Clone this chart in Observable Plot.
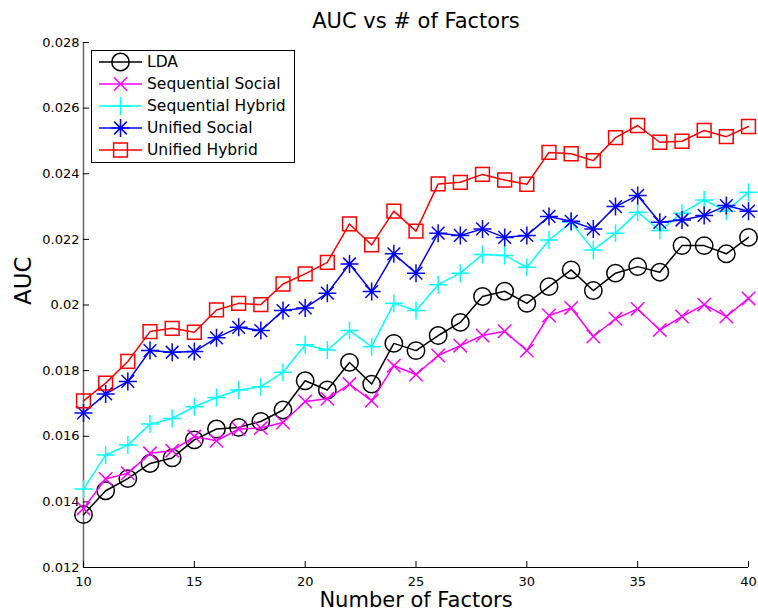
<!DOCTYPE html>
<html>
<head>
<meta charset="utf-8">
<script src="https://cdn.jsdelivr.net/npm/d3@7"></script>
<script src="https://cdn.jsdelivr.net/npm/@observablehq/plot@0.6"></script>
<style>
  html, body { margin: 0; padding: 0; background: #fff; }
  #chart svg { display: block; }
</style>
</head>
<body>
<div id="chart"></div>
<script>
// Number of latent factors on the x axis
const factors = [10, 11, 12, 13, 14, 15, 16, 17, 18, 19, 20, 21, 22, 23, 24, 25,
                 26, 27, 28, 29, 30, 31, 32, 33, 34, 35, 36, 37, 38, 39, 40];

// AUC per model, one value per factor count
const lda = [0.01361, 0.01434, 0.01471, 0.01517, 0.01534, 0.01589, 0.01622, 0.01627,
             0.01645, 0.01680, 0.01769, 0.01741, 0.01825, 0.01759, 0.01883, 0.01861,
             0.01907, 0.01947, 0.02026, 0.02042, 0.02005, 0.02056, 0.02107, 0.02044,
             0.02097, 0.02117, 0.02100, 0.02181, 0.02181, 0.02156, 0.02206];
const sequentialSocial = [0.01380, 0.01470, 0.01487, 0.01548, 0.01556, 0.01599, 0.01586, 0.01622,
             0.01625, 0.01642, 0.01706, 0.01714, 0.01759, 0.01708, 0.01815, 0.01788,
             0.01846, 0.01876, 0.01907, 0.01920, 0.01861, 0.01968, 0.01991, 0.01904,
             0.01958, 0.01988, 0.01924, 0.01965, 0.02001, 0.01965, 0.02020];
const sequentialHybrid = [0.01439, 0.01543, 0.01573, 0.01637, 0.01654, 0.01690, 0.01718, 0.01741,
             0.01751, 0.01795, 0.01879, 0.01863, 0.01922, 0.01873, 0.02005, 0.01983,
             0.02062, 0.02097, 0.02154, 0.02151, 0.02115, 0.02198, 0.02252, 0.02168,
             0.02219, 0.02283, 0.02227, 0.02280, 0.02320, 0.02286, 0.02344];
const unifiedSocial = [0.01671, 0.01729, 0.01767, 0.01861, 0.01856, 0.01858, 0.01900, 0.01932,
             0.01922, 0.01983, 0.01991, 0.02036, 0.02125, 0.02041, 0.02156, 0.02097,
             0.02219, 0.02212, 0.02232, 0.02206, 0.02212, 0.02270, 0.02255, 0.02232,
             0.02300, 0.02334, 0.02252, 0.02259, 0.02273, 0.02303, 0.02286];
const unifiedHybrid = [0.01708, 0.01762, 0.01828, 0.01919, 0.01929, 0.01917, 0.01985, 0.02005,
             0.02001, 0.02064, 0.02095, 0.02130, 0.02247, 0.02183, 0.02286, 0.02225,
             0.02369, 0.02374, 0.02398, 0.02381, 0.02368, 0.02465, 0.02461, 0.02440,
             0.02510, 0.02547, 0.02496, 0.02499, 0.02532, 0.02513, 0.02544];

const seriesNames = ["LDA", "Sequential Social", "Sequential Hybrid", "Unified Social", "Unified Hybrid"];
const seriesValues = [lda, sequentialSocial, sequentialHybrid, unifiedSocial, unifiedHybrid];

// Axes
const xDomain = [10, 40];
const yDomain = [0.012, 0.028];
const xTicks = [10, 15, 20, 25, 30, 35, 40];
const xTickLabels = ["10", "15", "20", "25", "30", "35", "40"];
const yTicks = [0.012, 0.014, 0.016, 0.018, 0.020, 0.022, 0.024, 0.026, 0.028];
const yTickLabels = ["0.012", "0.014", "0.016", "0.018", "0.02", "0.022", "0.024", "0.026", "0.028"];

const titleText = "AUC vs # of Factors";
const xLabelText = "Number of Factors";
const yLabelText = "AUC";

// ---- styling ----
const FONT = "DejaVu Sans";
const W = 758, H = 610;
const M = {top: 42, right: 10, bottom: 43, left: 83};
const plotW = W - M.left - M.right;
const plotH = H - M.top - M.bottom;
const TICK_LEN = 6;

// Stroke-only marker shapes; r is the half extent of each shape
const half = size => Math.sqrt(size / Math.PI);
const plusShape = {draw(c, size) { const r = half(size);
  c.moveTo(-r, 0); c.lineTo(r, 0); c.moveTo(0, -r); c.lineTo(0, r); }};
const timesShape = {draw(c, size) { const r = half(size);
  c.moveTo(-r, -r); c.lineTo(r, r); c.moveTo(-r, r); c.lineTo(r, -r); }};
const asteriskShape = {draw(c, size) { const r = half(size), d = r * Math.SQRT1_2;
  c.moveTo(-r, 0); c.lineTo(r, 0); c.moveTo(0, -r); c.lineTo(0, r);
  c.moveTo(-d, -d); c.lineTo(d, d); c.moveTo(-d, d); c.lineTo(d, -d); }};
const squareShape = {draw(c, size) { const r = half(size);
  c.moveTo(-r, -r); c.lineTo(r, -r); c.lineTo(r, r); c.lineTo(-r, r); c.closePath(); }};

const seriesStyle = [
  {color: "#000000", shape: "circle", r: 8.7},
  {color: "#ff00ff", shape: timesShape, r: 6.7},
  {color: "#00ffff", shape: plusShape, r: 9},
  {color: "#0000ff", shape: asteriskShape, r: 9},
  {color: "#ff0000", shape: squareShape, r: 6.9}
];

const seriesMarks = seriesValues.flatMap((vals, i) => {
  const rows = factors.map((k, j) => ({k, auc: vals[j]}));
  const s = seriesStyle[i];
  return [
    Plot.line(rows, {x: "k", y: "auc", stroke: s.color, strokeWidth: 1.5}),
    Plot.dot(rows, {x: "k", y: "auc", symbol: s.shape, r: s.r, stroke: s.color, strokeWidth: 1.5, fill: "none"})
  ];
});

const chart = Plot.plot({
  width: W,
  height: H,
  marginTop: M.top,
  marginRight: M.right,
  marginBottom: M.bottom,
  marginLeft: M.left,
  style: {fontFamily: FONT, fontSize: "13px", background: "#fff", color: "#000", overflow: "visible"},
  x: {domain: xDomain},
  y: {domain: yDomain},
  marks: [
    // axis lines (box off: left and bottom only)
    Plot.ruleX([xDomain[0]], {stroke: "#666", strokeWidth: 1.5}),
    Plot.ruleY([yDomain[0]], {stroke: "#000", strokeWidth: 1}),
    // inward ticks
    Plot.tickX(xTicks, {x: d => d, stroke: "#000", insetTop: plotH - TICK_LEN}),
    Plot.tickY(yTicks, {y: d => d, stroke: "#000", insetRight: plotW - TICK_LEN}),
    // tick labels
    Plot.axisX({ticks: xTicks, tickSize: 0, tickPadding: 9, fontSize: 13, label: null,
      tickFormat: d => xTickLabels[xTicks.indexOf(d)]}),
    Plot.axisY({ticks: yTicks, tickSize: 0, tickPadding: 4, fontSize: 13, label: null,
      tickFormat: d => yTickLabels[yTicks.indexOf(d)]}),
    ...seriesMarks,
    // title and axis labels
    Plot.text([titleText], {text: d => d, frameAnchor: "top", dy: -14.7, lineAnchor: "bottom", fontSize: 21, fill: "#000"}),
    Plot.text([xLabelText], {text: d => d, frameAnchor: "bottom", dy: 39, lineAnchor: "bottom", fontSize: 21, fill: "#000"}),
    Plot.text([yLabelText], {text: d => d, frameAnchor: "left", dx: -53, rotate: -90, lineAnchor: "bottom", fontSize: 23, fill: "#000"})
  ]
});

// Legend box in the upper-left corner of the plot area
const legend = d3.select(chart).append("g")
  .attr("transform", `translate(${M.left + 8},${M.top + 8})`)
  .attr("font-family", FONT)
  .attr("font-size", 15.5)
  .attr("text-anchor", "start");
legend.append("rect")
  .attr("x", 0.5).attr("y", 0.5).attr("width", 203).attr("height", 112)
  .attr("fill", "#fff").attr("stroke", "#000").attr("stroke-width", 1);
seriesNames.forEach((name, i) => {
  const s = seriesStyle[i];
  const row = legend.append("g").attr("transform", `translate(0,${12 + i * 22})`);
  row.append("line").attr("x1", 8).attr("x2", 51).attr("y1", 0).attr("y2", 0)
    .attr("stroke", s.color).attr("stroke-width", 1.5);
  const type = s.shape === "circle" ? d3.symbolCircle : s.shape;
  row.append("path").attr("transform", "translate(29.5,0)")
    .attr("d", d3.symbol(type, s.r * s.r * Math.PI)())
    .attr("fill", "none").attr("stroke", s.color).attr("stroke-width", 1.5);
  row.append("text").attr("x", 56).attr("dy", "0.35em").attr("fill", "#000")
    .attr("text-anchor", "start").text(name);
});

document.getElementById("chart").appendChild(chart);
</script>
</body>
</html>
